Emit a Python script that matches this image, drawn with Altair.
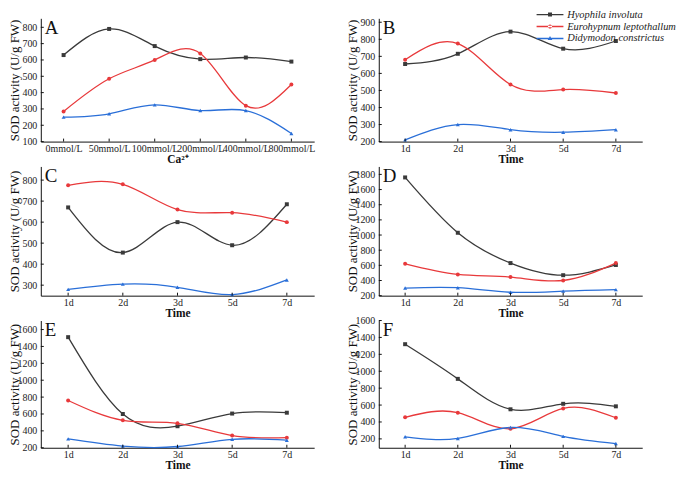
import altair as alt
import pandas as pd

species = ["Hyophila involuta", "Eurohypnum leptothallum", "Didymodon constrictus"]
ca_levels = ["0mmol/L", "50mmol/L", "100mmol/L", "200mmol/L", "400mmol/L", "800mmol/L"]
days = ["1d", "2d", "3d", "5d", "7d"]

a_hyo = [630, 790, 685, 605, 615, 590]
a_eur = [285, 485, 600, 640, 320, 450]
a_did = [250, 270, 325, 290, 290, 150]
b_hyo = [655, 715, 845, 745, 790]
b_eur = [680, 775, 535, 505, 485]
b_did = [210, 300, 270, 255, 270]
c_hyo = [670, 455, 600, 490, 685]
c_eur = [775, 780, 660, 645, 600]
c_did = [280, 305, 290, 255, 325]
d_hyo = [1760, 1030, 630, 470, 605]
d_eur = [620, 480, 445, 400, 630]
d_did = [300, 305, 245, 260, 280]
e_hyo = [1510, 600, 455, 605, 615]
e_eur = [760, 525, 490, 345, 320]
e_did = [305, 220, 215, 300, 290]
f_hyo = [1320, 910, 550, 615, 585]
f_eur = [455, 510, 320, 560, 450]
f_did = [225, 205, 335, 230, 145]

panel_letters = ["A", "B", "C", "D", "E", "F"]
y_title = "SOD activity (U/g FW)"
x_titles = ["Ca²⁺", "Time", "Time", "Time", "Time", "Time"]
y_domains = [[100, 855], [200, 923], [250, 865], [200, 1905], [200, 1707], [95, 1600]]
y_ticks = [
    [100, 200, 300, 400, 500, 600, 700, 800],
    [200, 300, 400, 500, 600, 700, 800, 900],
    [300, 400, 500, 600, 700, 800],
    [200, 400, 600, 800, 1000, 1200, 1400, 1600, 1800],
    [200, 400, 600, 800, 1000, 1200, 1400, 1600],
    [200, 400, 600, 800, 1000, 1200, 1400, 1600],
]

colors = ["#3a3a3a", "#e8393b", "#2a6fd8"]
shapes = ["square", "circle", "triangle-up"]
legend_paths = [
    "M-2.7,-0.14H2.7V0.14H-2.7Z M-0.4,-0.4H0.4V0.4H-0.4Z",
    "M-2.7,-0.14H2.7V0.14H-2.7Z M-0.42,0 A0.42,0.42 0 1,0 0.42,0 A0.42,0.42 0 1,0 -0.42,0Z",
    "M-2.7,-0.14H2.7V0.14H-2.7Z M0,-0.5L0.46,0.32H-0.46Z",
]
SERIF = "Liberation Serif"
AXIS_COLOR = "#111"


def panel(letter, cats, series, xtitle, ydom, yticks, w, h, with_legend=False):
    rows = []
    for sp, vals in zip(species, series):
        for c, v in zip(cats, vals):
            rows.append({"cat": c, "val": v, "sp": sp, "legsp": sp})
    df = pd.DataFrame(rows)
    xscale = alt.Scale(type="point", padding=0.5)
    yscale = alt.Scale(domain=ydom, nice=False, zero=False)
    x = alt.X("cat:N", sort=cats, scale=xscale,
              axis=alt.Axis(title=xtitle, labelAngle=0, labelOverlap=False, labelPadding=2,
                            ticks=False, titlePadding=0, titleFontWeight="bold",
                            titleFontSize=11.5, labelFontSize=10))
    y = alt.Y("val:Q", scale=yscale,
              axis=alt.Axis(title=y_title, values=yticks, format="d", ticks=False, labelPadding=4,
                            labelOverlap=False, titleX=-19, titleFontWeight="normal",
                            titleFontSize=13, labelFontSize=10))
    color = alt.Color("sp:N", scale=alt.Scale(domain=species, range=colors), legend=None)
    base = alt.Chart(df)
    line = base.mark_line(interpolate="natural", strokeWidth=1.3).encode(x=x, y=y, color=color)
    pts = base.mark_point(filled=True, size=16, opacity=1).encode(
        x=x, y=y, color=color,
        shape=alt.Shape("sp:N", scale=alt.Scale(domain=species, range=shapes), legend=None))
    # inward ticks, as in the original figure
    xt = alt.Chart(pd.DataFrame({"cat": cats})).mark_rule(color=AXIS_COLOR, strokeWidth=1).encode(
        x=x, y=alt.value(h - 3), y2=alt.value(h))
    yt = alt.Chart(pd.DataFrame({"val": yticks})).mark_rule(color=AXIS_COLOR, strokeWidth=1).encode(
        y=y, x=alt.value(0), x2=alt.value(3))
    txt = alt.Chart(pd.DataFrame({"t": [letter]})).mark_text(
        font=SERIF, fontSize=19, align="left", baseline="alphabetic", color="#111"
    ).encode(text="t:N", x=alt.value(4), y=alt.value(16))
    layers = [line, pts, xt, yt, txt]
    if with_legend:
        leg_props = dict(orient="none", legendX=167, legendY=-9, title=None,
                         labelFont=SERIF, labelFontStyle="italic", labelFontSize=10.5,
                         labelColor="#222", symbolSize=100, symbolStrokeWidth=0,
                         symbolOpacity=1, labelOffset=12, rowPadding=1, padding=0)
        leg = base.mark_point(filled=True).transform_filter("false").encode(
            x=x, y=y,
            color=alt.Color("legsp:N", scale=alt.Scale(domain=species, range=colors),
                            legend=alt.Legend(**leg_props)),
            shape=alt.Shape("legsp:N", scale=alt.Scale(domain=species, range=legend_paths),
                            legend=alt.Legend(**leg_props)))
        layers.append(leg)
    ch = alt.layer(*layers).properties(width=w, height=h)
    if with_legend:
        ch = ch.resolve_scale(color="independent", shape="independent")
    return ch


pa = panel("A", ca_levels, [a_hyo, a_eur, a_did], x_titles[0], y_domains[0], y_ticks[0], 275, 124)
pb = panel("B", days, [b_hyo, b_eur, b_did], x_titles[1], y_domains[1], y_ticks[1], 265, 124, True)
pc = panel("C", days, [c_hyo, c_eur, c_did], x_titles[2], y_domains[2], y_ticks[2], 275, 130)
pd_ = panel("D", days, [d_hyo, d_eur, d_did], x_titles[3], y_domains[3], y_ticks[3], 265, 130)
pe = panel("E", days, [e_hyo, e_eur, e_did], x_titles[4], y_domains[4], y_ticks[4], 275, 128)
pf = panel("F", days, [f_hyo, f_eur, f_did], x_titles[5], y_domains[5], y_ticks[5], 265, 128)

chart = alt.concat(pa, pb, pc, pd_, pe, pf, columns=2, spacing={"row": 25, "column": 65},
                   bounds="flush",
                   padding={"left": 0, "top": 0, "right": 0, "bottom": 0}).resolve_scale(
    color="independent", shape="independent"
).properties(background="white").configure_view(stroke=None).configure_axis(
    grid=False, domainColor=AXIS_COLOR, tickColor=AXIS_COLOR, domainWidth=1, tickWidth=1,
    labelFont=SERIF, titleFont=SERIF, labelColor="#222", titleColor="#111"
)

chart.save("out.html", embed_options={"renderer": "svg", "actions": False})
